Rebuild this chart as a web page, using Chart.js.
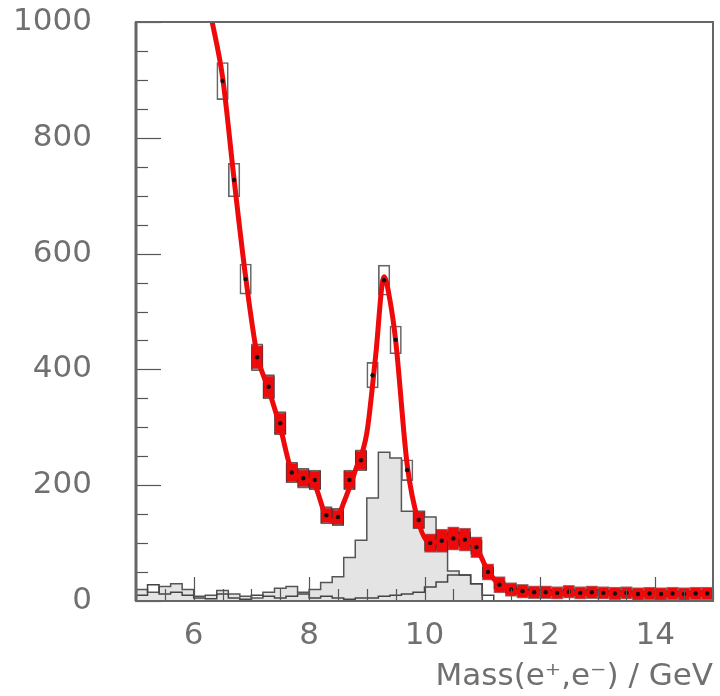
<!DOCTYPE html>
<html>
<head>
<meta charset="utf-8">
<script src="https://cdn.jsdelivr.net/npm/chart.js@4"></script>
<style>
    html, body { margin: 0; padding: 0; background: #fff; }
    #wrap { width: 720px; height: 696px; }
</style>
</head>
<body>
<div id="wrap"><canvas id="chart" width="720" height="696"></canvas></div>
<script>
// histogram bins: 0.2 GeV wide starting at 5.0 GeV
const HIST_START = 5.0;
const BIN_WIDTH = 0.2;

const grayHist = [
    20, 15, 25, 30, 20, 8, 10, 18, 12, 8,
    5, 15, 22, 25, 15, 20, 32, 42, 75, 105,
    178, 257, 247, 155, 155, 145, 100, 52, 45, 30,
    0, 0, 0, 0, 0, 0, 0, 0, 0, 0,
    0, 0, 0, 0, 0, 0, 0, 0, 0, 0
];

const outlineHist = [
    10, 28, 12, 15, 10, 5, 4, 12, 5, 3,
    10, 8, 5, 8, 12, 5, 8, 5, 3, 5,
    5, 8, 10, 12, 15, 24, 33, 45, 45, 30,
    10, 0, 0, 0, 0, 0, 0, 0, 0, 0,
    0, 0, 0, 0, 0, 0, 0, 0, 0, 0
];

// data points
const pointMass = [
    6.5, 6.7, 6.9, 7.1, 7.3, 7.5, 7.7, 7.9, 8.1, 8.3,
    8.5, 8.7, 8.9, 9.1, 9.3, 9.5, 9.7, 9.9, 10.1, 10.3,
    10.5, 10.7, 10.9, 11.1, 11.3, 11.5, 11.7, 11.9, 12.1, 12.3,
    12.5, 12.7, 12.9, 13.1, 13.3, 13.5, 13.7, 13.9, 14.1, 14.3,
    14.5, 14.7, 14.9
];
const pointCounts = [
    898, 727, 556, 421, 370, 307, 222, 212, 209, 148,
    145, 209, 243, 390, 554, 451, 226, 140, 100, 104,
    108, 106, 93, 50, 28, 20, 17, 15, 15, 14,
    16, 14, 15, 14, 13, 14, 12, 13, 12, 13,
    12, 13, 13
];
const pointErr = [
    32, 29, 26, 23, 21, 20, 18, 17, 17, 15,
    15, 17, 18, 22, 26, 24, 18, 15, 13, 13,
    13, 13, 12, 9, 7, 6, 5, 5, 5, 5,
    5, 5, 5, 5, 5, 5, 5, 5, 5, 5,
    5, 5, 5
];
// red band half-heights (0 = no band box)
const bandErr = [
    0, 0, 0, 20, 19, 18, 16, 15, 15, 13,
    13, 15, 16, 0, 0, 0, 0, 14, 16, 20,
    20, 20, 18, 14, 14, 12, 12, 11, 11, 11,
    11, 11, 11, 11, 11, 11, 11, 11, 11, 11,
    11, 11, 11
];

// fit curve
const fitMass = [
    6.3, 6.5, 6.7, 6.9, 7.1, 7.3, 7.5, 7.7, 7.9, 8.1,
    8.3, 8.45, 8.6, 8.8, 9.0, 9.15, 9.3, 9.4, 9.5, 9.7,
    9.9, 10.1, 10.3, 10.5, 10.7, 10.9, 11.1, 11.3, 11.5, 11.8,
    12.2, 13.0, 14.0, 14.9
];
const fitValues = [
    1010, 905, 728, 560, 425, 365, 300, 225, 212, 200,
    145, 138, 170, 225, 290, 420, 560, 520, 450, 235,
    135, 100, 105, 112, 108, 92, 52, 28, 18, 14,
    13, 13, 12, 12
];

const xTickValues = [6, 8, 10, 12, 14];
const yTickValues = [0, 200, 400, 600, 800, 1000];

function histPoints(values) {
    const pts = values.map((v, i) => ({ x: HIST_START + BIN_WIDTH * i, y: v }));
    pts.push({ x: HIST_START + BIN_WIDTH * values.length, y: values[values.length - 1] });
    return pts;
}

const frameTicks = {
    id: 'frameTicks',
    afterDatasetsDraw(chart) {
        const { ctx, chartArea: a, scales: { x, y } } = chart;
        ctx.save();
        ctx.strokeStyle = '#555';
        ctx.lineWidth = 1.2;
        for (let v = 0; v <= 1000; v += 50) {
            const py = Math.round(y.getPixelForValue(v)) + 0.5;
            const len = v % 200 === 0 ? 25 : 12;
            ctx.beginPath();
            ctx.moveTo(a.left, py);
            ctx.lineTo(a.left + len, py);
            ctx.stroke();
        }
        for (let v = 5; v <= 15; v += 0.5) {
            const px = Math.round(x.getPixelForValue(v)) + 0.5;
            const len = v % 2 === 0 ? 24 : 12;
            ctx.beginPath();
            ctx.moveTo(px, a.bottom);
            ctx.lineTo(px, a.bottom - len);
            ctx.stroke();
        }
        ctx.strokeStyle = '#666';
        ctx.lineWidth = 2;
        ctx.strokeRect(a.left, a.top, a.right - a.left, a.bottom - a.top);
        ctx.lineWidth = 3;
        ctx.beginPath();
        ctx.moveTo(a.left, a.top);
        ctx.lineTo(a.left, a.bottom);
        ctx.stroke();
        ctx.restore();
    }
};

const labelFont = { family: "'DejaVu Sans', sans-serif", size: 31 };

new Chart(document.getElementById('chart'), {
    type: 'bar',
    data: {
        datasets: [
            {
                type: 'line',
                label: 'points',
                data: pointMass.map((m, i) => ({ x: m, y: pointCounts[i] })),
                showLine: false,
                pointRadius: 2.2,
                pointBackgroundColor: '#111',
                pointBorderWidth: 0,
                order: 1
            },
            {
                type: 'line',
                label: 'fit',
                data: fitMass.map((m, i) => ({ x: m, y: fitValues[i] })),
                borderColor: '#ee0a0a',
                borderWidth: 5,
                pointRadius: 0,
                cubicInterpolationMode: 'monotone',
                fill: false,
                order: 2
            },
            {
                label: 'band',
                data: pointMass
                    .map((m, i) => ({ x: m, y: [pointCounts[i] - bandErr[i], pointCounts[i] + bandErr[i]], e: bandErr[i] }))
                    .filter(d => d.e > 0),
                backgroundColor: '#ee0a0a',
                borderColor: 'rgba(90,0,0,0.55)',
                borderWidth: 1,
                borderSkipped: false,
                grouped: false,
                barPercentage: 1,
                categoryPercentage: 1,
                order: 3
            },
            {
                label: 'errors',
                data: pointMass.map((m, i) => ({ x: m, y: [pointCounts[i] - pointErr[i], pointCounts[i] + pointErr[i]] })),
                backgroundColor: 'rgba(0,0,0,0)',
                borderColor: '#666',
                borderWidth: 1,
                borderSkipped: false,
                grouped: false,
                barPercentage: 1,
                categoryPercentage: 1,
                order: 4
            },
            {
                type: 'line',
                label: 'outline',
                data: histPoints(outlineHist),
                stepped: 'before',
                borderColor: '#444',
                borderWidth: 1.5,
                pointRadius: 0,
                fill: false,
                order: 5
            },
            {
                type: 'line',
                label: 'gray',
                data: histPoints(grayHist),
                stepped: 'before',
                borderColor: '#555',
                borderWidth: 1.5,
                backgroundColor: '#e4e4e4',
                pointRadius: 0,
                fill: 'origin',
                order: 6
            }
        ]
    },
    options: {
        responsive: false,
        animation: false,
        layout: { padding: { top: 22, right: 7, left: 0, bottom: 0 } },
        plugins: { legend: { display: false }, tooltip: { enabled: false } },
        scales: {
            x: {
                type: 'linear',
                min: 5,
                max: 15,
                offset: false,
                grid: { display: false, offset: false },
                border: { display: false },
                afterBuildTicks: s => { s.ticks = xTickValues.map(v => ({ value: v })); },
                afterFit: s => { s.height = 95; s.paddingLeft = 0; s.paddingRight = 0; },
                ticks: { font: labelFont, color: '#707070', padding: 8, maxRotation: 0, callback: v => String(v) },
                title: {
                    display: true,
                    text: 'Mass(e⁺,e⁻) / GeV',
                    align: 'end',
                    font: labelFont,
                    color: '#707070',
                    padding: 0
                }
            },
            y: {
                min: 0,
                max: 1000,
                grid: { display: false },
                border: { display: false },
                afterBuildTicks: s => { s.ticks = yTickValues.map(v => ({ value: v })); },
                afterFit: s => { s.width = 136; s.paddingTop = 0; s.paddingBottom = 0; },
                ticks: { font: labelFont, color: '#707070', padding: 36, callback: v => String(v) }
            }
        }
    },
    plugins: [frameTicks]
});
</script>
</body>
</html>
